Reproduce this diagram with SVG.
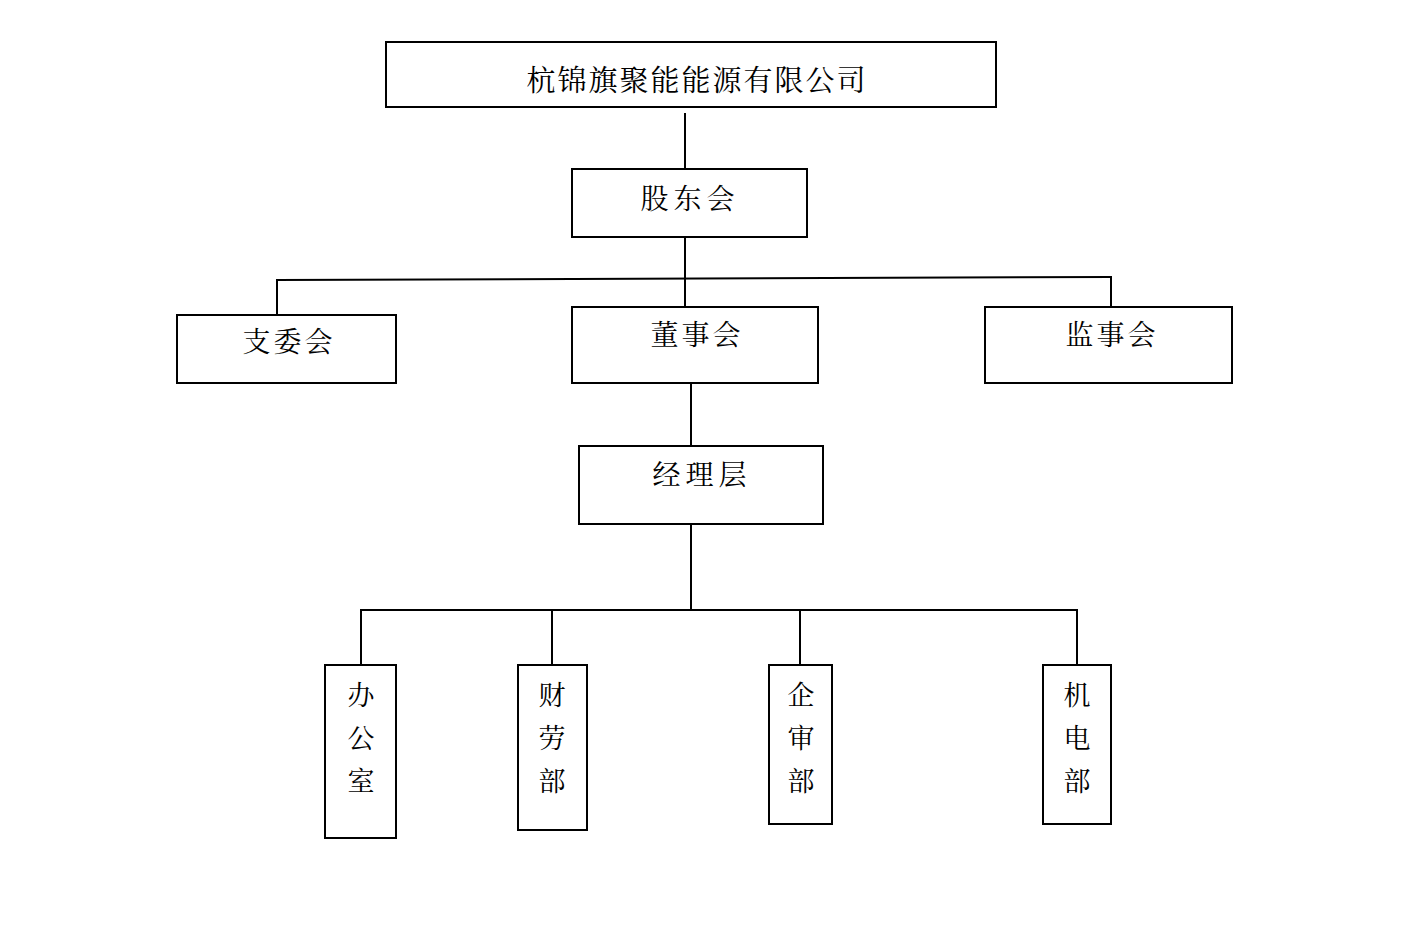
<svg xmlns="http://www.w3.org/2000/svg" width="1413" height="941" viewBox="0 0 1413 941">
<style>
rect{fill:#fff;stroke:#000;stroke-width:2}
.c line{stroke:#000;stroke-width:2}
text{font-family:"Noto Serif CJK SC","Noto Sans CJK SC",serif;fill:#000;text-anchor:middle;font-size:28px}
.v{font-size:27px}
</style>
<rect x="0" y="0" width="1413" height="941" style="stroke:none"/>
<g class="c" id="connectors">
<line x1="685" y1="113" x2="685" y2="169"/>
<line x1="685" y1="237" x2="685" y2="307"/>
<line x1="276" y1="280" x2="1112" y2="277"/>
<line x1="277" y1="279" x2="277" y2="315"/>
<line x1="1111" y1="276" x2="1111" y2="307"/>
<line x1="691" y1="383" x2="691" y2="446"/>
<line x1="691" y1="524" x2="691" y2="610"/>
<line x1="360" y1="610" x2="1078" y2="610"/>
<line x1="361" y1="609" x2="361" y2="665"/>
<line x1="552" y1="609" x2="552" y2="665"/>
<line x1="800" y1="609" x2="800" y2="665"/>
<line x1="1077" y1="609" x2="1077" y2="665"/>
</g>
<g id="n-company"><rect x="386" y="42" width="610" height="65"/><text x="697" y="91" style="font-size:29px;letter-spacing:2px">杭锦旗聚能能源有限公司</text></g>
<g id="n-gudong"><rect x="572" y="169" width="235" height="68"/><text x="690" y="209" style="letter-spacing:5px">股东会</text></g>
<g id="n-zhiwei"><rect x="177" y="315" width="219" height="68"/><text x="289" y="352" style="letter-spacing:3px">支委会</text></g>
<g id="n-dongshi"><rect x="572" y="307" width="246" height="76"/><text x="697" y="345" style="letter-spacing:3px">董事会</text></g>
<g id="n-jianshi"><rect x="985" y="307" width="247" height="76"/><text x="1112" y="345" style="letter-spacing:3px">监事会</text></g>
<g id="n-jingli"><rect x="579" y="446" width="244" height="78"/><text x="702" y="485" style="letter-spacing:5px">经理层</text></g>
<g id="n-bangong"><rect x="325" y="665" width="71" height="173"/><text class="v" x="361" y="705">办</text><text class="v" x="361" y="748">公</text><text class="v" x="361" y="791">室</text></g>
<g id="n-cailao"><rect x="518" y="665" width="69" height="165"/><text class="v" x="552" y="705">财</text><text class="v" x="552" y="748">劳</text><text class="v" x="552" y="791">部</text></g>
<g id="n-qishen"><rect x="769" y="665" width="63" height="159"/><text class="v" x="801" y="705">企</text><text class="v" x="801" y="748">审</text><text class="v" x="801" y="791">部</text></g>
<g id="n-jidian"><rect x="1043" y="665" width="68" height="159"/><text class="v" x="1077" y="705">机</text><text class="v" x="1077" y="748">电</text><text class="v" x="1077" y="791">部</text></g>
</svg>
